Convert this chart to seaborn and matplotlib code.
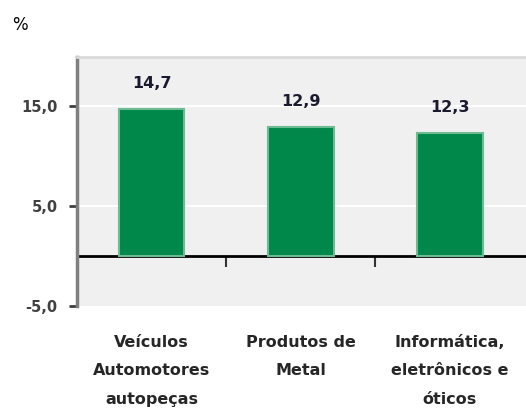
import matplotlib
matplotlib.use("Agg")
import matplotlib.pyplot as plt
import seaborn as sns
import pandas as pd

categories = ["Veículos\nAutomotores\nautopeças", "Produtos de\nMetal", "Informática,\neletrônicos e\nóticos"]
values = [14.7, 12.9, 12.3]
y_ticks = [-5.0, 5.0, 15.0]
y_tick_labels = ["-5,0", "5,0", "15,0"]

df = pd.DataFrame({"cat": categories, "val": values})

sns.set_style("white", {"axes.facecolor": "#f0f0f0"})
plt.rcParams['font.family'] = ['DejaVu Sans']

fig = plt.figure(figsize=(5.26, 4.08), dpi=100)
ax = fig.add_axes([77/526, 102/408, 449/526, 249/408])

sns.barplot(data=df, x="cat", y="val", color="#00874a", width=0.44,
            edgecolor="#6dbb92", linewidth=1.5, saturation=1, ax=ax)

ax.set_ylim(-5, 19.9)
ax.set_xlim(-0.5, 2.51)
ax.set_yticks(y_ticks)
ax.set_yticklabels(y_tick_labels, fontsize=10.5, color="#404040", fontweight="bold")
ax.tick_params(axis="y", length=6, width=2, color="#404040", pad=8, left=True)
ax.set_xticks(range(len(categories)))
ax.set_xticklabels(categories, fontsize=11.5, fontweight="bold", color="#262626", linespacing=2.1, va="top")
ax.tick_params(axis="x", length=0, pad=21)
ax.set_xlabel("")
ax.set_ylabel("")

for y in y_ticks[1:]:
    ax.axhline(y, color="white", lw=1.5, zorder=0.5)

for sp in ["bottom", "right"]:
    ax.spines[sp].set_visible(False)
ax.spines["left"].set_color("#808080")
ax.spines["left"].set_linewidth(2.5)
ax.spines["top"].set_color("#d9d9d9")
ax.spines["top"].set_linewidth(2)

sec = ax.secondary_xaxis(5/24.9)
sec.set_xticks([0.5, 1.5])
sec.set_xticklabels(["", ""])
sec.tick_params(length=8, width=1.5, color="#333333", direction="out")
sec.spines["bottom"].set_color("black")
sec.spines["bottom"].set_linewidth(2)

labels = [f"{v:.1f}".replace(".", ",") for v in values]
ax.bar_label(ax.containers[0], labels=labels, padding=13, fontsize=11.5, fontweight="bold", color="#1a1a2e")

fig.text(12/526, 1 - 25/408, "%", fontsize=12, ha="left", va="center", color="black")

fig.savefig("out.png", dpi=100)
